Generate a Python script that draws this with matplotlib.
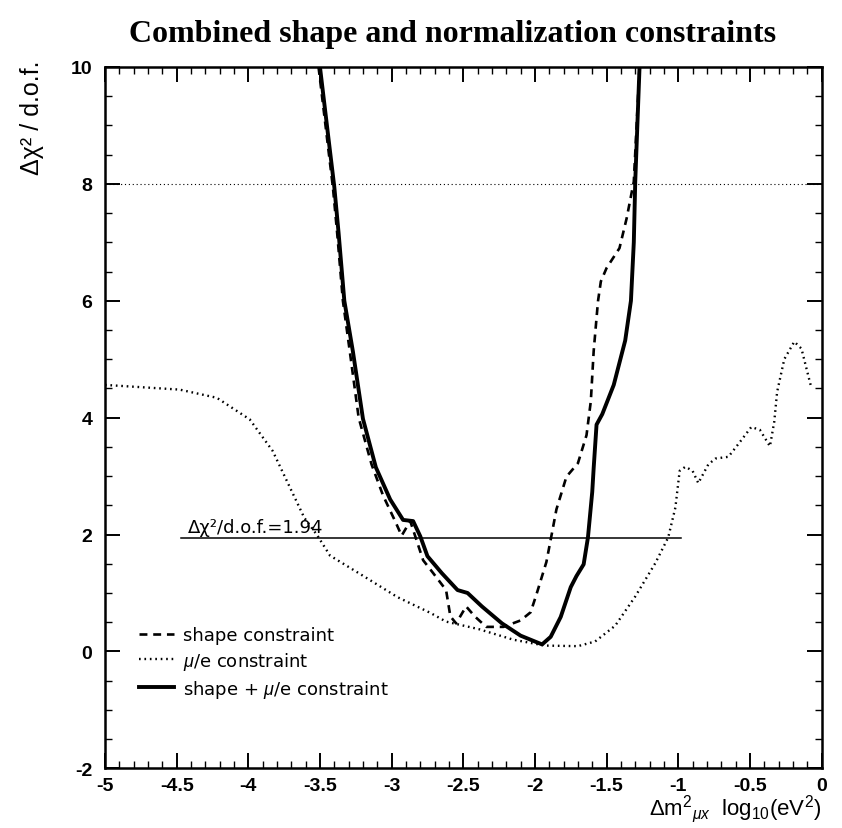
import numpy as np
import matplotlib
matplotlib.use("Agg")
import matplotlib.pyplot as plt
from matplotlib.ticker import MultipleLocator, FuncFormatter

plt.rcParams['font.family'] = ['Liberation Sans', 'DejaVu Sans']
plt.rcParams['mathtext.fontset'] = 'custom'
plt.rcParams['mathtext.rm'] = 'Liberation Sans'
plt.rcParams['mathtext.it'] = 'Liberation Sans:italic'
plt.rcParams['mathtext.bf'] = 'Liberation Sans:bold'

# combined shape + mu/e constraint (solid)
comb_x = [-3.50, -3.43, -3.40, -3.37, -3.33, -3.27, -3.20, -3.11, -3.01, -2.92,
          -2.85, -2.80, -2.75, -2.65, -2.54, -2.47, -2.37, -2.23, -2.10, -2.01,
          -1.95, -1.89, -1.82, -1.75, -1.71, -1.66, -1.63, -1.60, -1.59, -1.57,
          -1.53, -1.45, -1.37, -1.33, -1.31, -1.30, -1.27]
comb_y = [10.0, 8.56, 7.95, 7.16, 6.00, 5.13, 3.98, 3.15, 2.60, 2.25,
          2.23, 1.97, 1.63, 1.34, 1.05, 1.00, 0.77, 0.48, 0.27, 0.18,
          0.12, 0.25, 0.59, 1.10, 1.29, 1.49, 1.95, 2.73, 3.14, 3.88,
          4.06, 4.56, 5.32, 6.00, 7.00, 8.04, 10.0]

# shape constraint (dashed)
shape_x = [-3.51, -3.44, -3.41, -3.38, -3.34, -3.29, -3.23, -3.14, -3.06, -2.97,
           -2.93, -2.87, -2.78, -2.71, -2.62, -2.59, -2.55, -2.48, -2.42, -2.34,
           -2.22, -2.10, -2.03, -1.99, -1.92, -1.88, -1.85, -1.78, -1.70, -1.64,
           -1.61, -1.59, -1.56, -1.54, -1.50, -1.41, -1.36, -1.31, -1.27]
shape_y = [10.0, 8.56, 7.95, 7.16, 6.00, 5.10, 4.00, 3.20, 2.67, 2.20,
           1.98, 2.23, 1.56, 1.34, 1.05, 0.60, 0.48, 0.77, 0.60, 0.42,
           0.42, 0.53, 0.67, 0.97, 1.53, 2.04, 2.43, 2.99, 3.22, 3.70,
           4.28, 5.14, 5.99, 6.33, 6.56, 6.90, 7.41, 8.04, 10.0]

# mu/e constraint (dotted)
mue_x = [-5.00, -4.48, -4.22, -3.99, -3.83, -3.72, -3.61, -3.52, -3.43, -3.19,
         -2.96, -2.73, -2.62, -2.39, -2.15, -1.93, -1.70, -1.58, -1.44, -1.30,
         -1.16, -1.07, -1.02, -0.99, -0.95, -0.90, -0.86, -0.79, -0.74, -0.65,
         -0.58, -0.49, -0.43, -0.36, -0.33, -0.31, -0.26, -0.19, -0.14, -0.10,
         -0.07]
mue_y = [4.56, 4.48, 4.34, 3.97, 3.43, 2.86, 2.29, 1.99, 1.64, 1.28,
         0.93, 0.66, 0.51, 0.38, 0.20, 0.10, 0.09, 0.17, 0.44, 0.94,
         1.51, 1.95, 2.46, 3.09, 3.16, 3.09, 2.88, 3.20, 3.30, 3.33,
         3.55, 3.84, 3.79, 3.51, 3.93, 4.44, 5.00, 5.30, 5.18, 4.79,
         4.50]

cut_value = 1.94
cut_range = [-4.47, -0.98]
ref_level = 8

fig = plt.figure(figsize=(8.42, 8.29), dpi=100)
ax = fig.add_axes([0.1247, 0.072, 0.851, 0.846])

ax.axhline(ref_level, color='black', lw=0.8, ls=(0, (1, 2.5)))
ax.plot(mue_x, mue_y, color='black', lw=1.7, ls=(0, (0.7, 1.6)), label=r'$\mu$/e constraint')
ax.plot(shape_x, shape_y, color='black', lw=1.9, ls=(0, (3, 2.2)), label='shape constraint')
ax.plot(comb_x, comb_y, color='black', lw=2.8, label=r'shape + $\mu$/e constraint')

ax.plot(cut_range, [cut_value, cut_value], color='black', lw=1.1)
ax.text(cut_range[0] + 0.05, cut_value + 0.04, 'Δχ²/d.o.f.=1.94', fontsize=13,
        fontfamily='DejaVu Sans', ha='left', va='bottom')

h, l = ax.get_legend_handles_labels()
order = [1, 0, 2]
ax.legend([h[i] for i in order], [l[i] for i in order], loc='lower left',
          bbox_to_anchor=(0.048, 0.098), frameon=False,
          prop={'family': 'DejaVu Sans', 'size': 13},
          handlelength=1.9, handletextpad=0.5, labelspacing=0.32, borderpad=0, borderaxespad=0)

ax.set_xlim(-5, 0)
ax.set_ylim(-2, 10)
ax.xaxis.set_major_locator(MultipleLocator(0.5))
ax.xaxis.set_minor_locator(MultipleLocator(0.1))
ax.yaxis.set_major_locator(MultipleLocator(2))
ax.yaxis.set_minor_locator(MultipleLocator(0.5))
fmt = FuncFormatter(lambda v, p: ('%g' % v).replace('\u2212', '-'))
ax.xaxis.set_major_formatter(fmt)
ax.yaxis.set_major_formatter(fmt)
ax.tick_params(which='both', direction='in', top=True, right=True)
ax.tick_params(which='major', length=11, width=1.4)
ax.tick_params(which='minor', length=5, width=1.0)
ax.tick_params(axis='x', which='major', pad=6)
ax.tick_params(axis='y', which='major', pad=9)
for lab in ax.get_xticklabels() + ax.get_yticklabels():
    lab.set_fontweight('bold')
    lab.set_fontsize(14)
for s in ax.spines.values():
    s.set_linewidth(1.8)

ax.set_title('Combined shape and normalization constraints', fontfamily='Liberation Serif',
             fontweight='bold', fontsize=23, pad=19, x=0.485)
ax.set_ylabel('Δχ² / d.o.f.', fontsize=18, loc='top')
ax.yaxis.set_label_coords(-0.085, 1.01)
ax.set_xlabel(r'$\Delta$m$^2$$_{\mu x}$  log$_{10}$(eV$^2$)', fontsize=16, loc='right', labelpad=-1)

fig.savefig('out.png', dpi=100)
